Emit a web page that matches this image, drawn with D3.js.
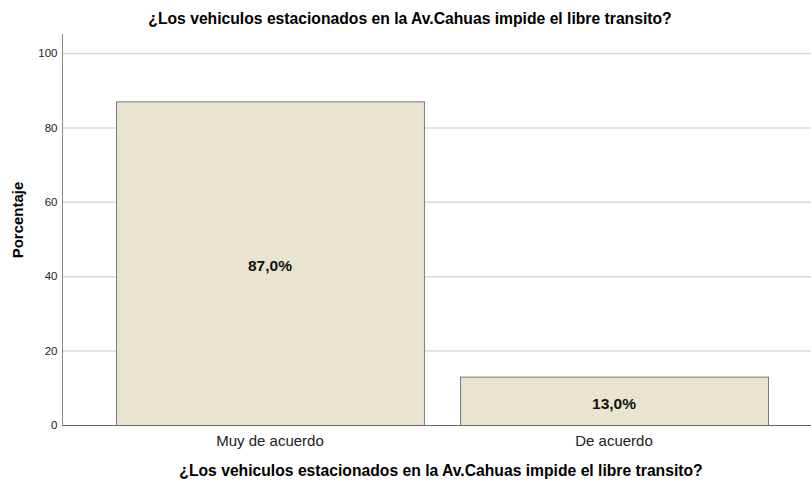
<!DOCTYPE html>
<html lang="es">
  <head>
    <meta charset="utf-8" />
    <title>Vehiculos estacionados</title>
    <script src="https://cdn.jsdelivr.net/npm/d3@7"></script>
    <style>
      body { margin: 0; background: #fff; }
      svg { font-family: "Liberation Sans", Arial, sans-serif; }
    </style>
  </head>
  <body>
    <script>
      const categorias = ["Muy de acuerdo", "De acuerdo"];
      const porcentajes = [87.0, 13.0];
      const ticksY = [0, 20, 40, 60, 80, 100];
      const titulo = "¿Los vehiculos estacionados en la Av.Cahuas impide el libre transito?";

      const svg = d3.select("body").append("svg")
        .attr("width", 811)
        .attr("height", 481);

      const x = d3.scaleBand()
        .domain(categorias)
        .range([116, 768])
        .paddingInner(0.105)
        .paddingOuter(0);

      const y = d3.scaleLinear()
        .domain([0, 100])
        .range([425, 53]);

      // lineas de la cuadricula
      svg.append("g")
        .selectAll("line")
        .data(ticksY.filter(d => d > 0))
        .enter()
        .append("line")
        .attr("x1", 62)
        .attr("x2", 811)
        .attr("y1", d => y(d) + 0.5)
        .attr("y2", d => y(d) + 0.5)
        .attr("stroke", "#d9d9d9")
        .attr("stroke-width", 1.5);

      // barras
      svg.append("g")
        .selectAll("rect")
        .data(porcentajes)
        .enter()
        .append("rect")
        .attr("x", (d, i) => x(categorias[i]) + 0.5)
        .attr("y", d => y(d) + 0.5)
        .attr("width", x.bandwidth())
        .attr("height", d => y(0) - y(d))
        .attr("fill", "#e9e3cf")
        .attr("stroke", "#7a7a7a")
        .attr("stroke-width", 1);

      // etiquetas de valor
      svg.append("g")
        .selectAll("text")
        .data(porcentajes)
        .enter()
        .append("text")
        .attr("x", (d, i) => x(categorias[i]) + x.bandwidth() / 2)
        .attr("y", d => (y(d) + y(0)) / 2 + 8)
        .attr("text-anchor", "middle")
        .attr("font-size", 15.5)
        .attr("font-weight", "bold")
        .attr("fill", "#111")
        .text(d => d.toFixed(1).replace(".", ",") + "%");

      // eje y
      const ejeY = svg.append("g")
        .attr("transform", "translate(62.5,0)")
        .call(d3.axisLeft(y).tickValues(ticksY).tickSize(0).tickPadding(5));
      ejeY.select(".domain").attr("d", "M0,34V425.5").attr("stroke", "#888");
      ejeY.selectAll("text").attr("font-size", 11.5).attr("fill", "#222")
        .attr("font-family", "Liberation Sans, Arial, sans-serif");

      // eje x
      const ejeX = svg.append("g")
        .attr("transform", "translate(0,425.5)")
        .call(d3.axisBottom(x).tickSize(0).tickPadding(10));
      ejeX.select(".domain").attr("d", "M62,0H811").attr("stroke", "#666");
      ejeX.selectAll("text").attr("font-size", 15).attr("fill", "#222")
        .attr("font-family", "Liberation Sans, Arial, sans-serif");

      // titulos
      svg.append("text")
        .attr("x", 410)
        .attr("y", 24)
        .attr("text-anchor", "middle")
        .attr("font-size", 15.7)
        .attr("font-weight", "bold")
        .text(titulo);

      svg.append("text")
        .attr("x", 441)
        .attr("y", 476)
        .attr("text-anchor", "middle")
        .attr("font-size", 15.7)
        .attr("font-weight", "bold")
        .text(titulo);

      svg.append("text")
        .attr("transform", "translate(23,220) rotate(-90)")
        .attr("text-anchor", "middle")
        .attr("font-size", 15)
        .attr("font-weight", "bold")
        .text("Porcentaje");
    </script>
  </body>
</html>
